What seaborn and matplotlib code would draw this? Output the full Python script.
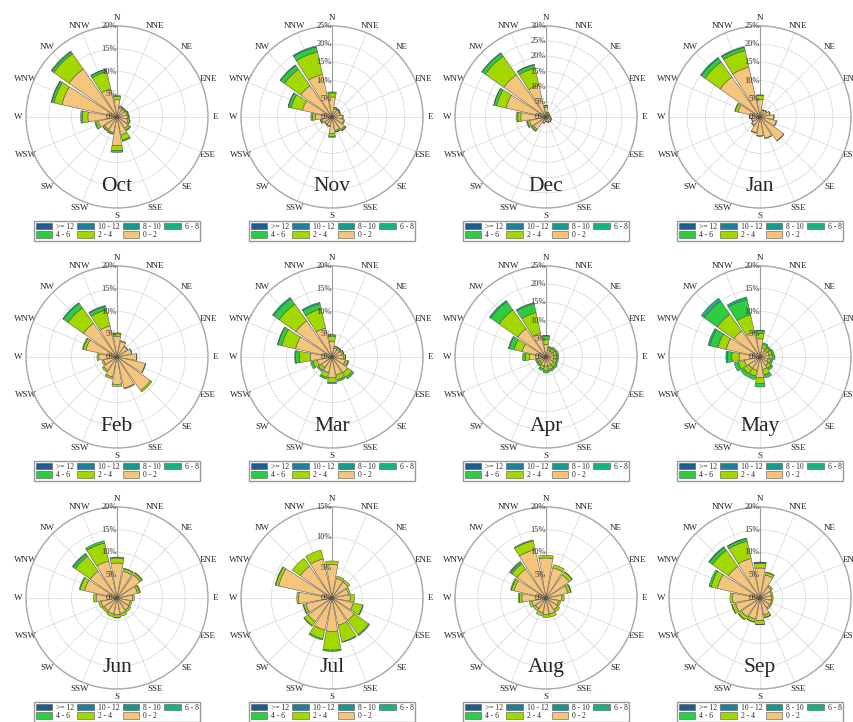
import numpy as np
import matplotlib
matplotlib.use("Agg")
import matplotlib.pyplot as plt
from matplotlib.patches import Patch
import seaborn as sns

# compass sectors, clockwise from north
directions = ["N", "NNE", "NE", "ENE", "E", "ESE", "SE", "SSE",
              "S", "SSW", "SW", "WSW", "W", "WNW", "NW", "NNW"]
speed_bins = ["0 - 2", "2 - 4", "4 - 6", "6 - 8", "8 - 10", "10 - 12", ">= 12"]
months = ["Oct", "Nov", "Dec", "Jan", "Feb", "Mar",
          "Apr", "May", "Jun", "Jul", "Aug", "Sep"]
r_max = [20, 25, 30, 25, 20, 20, 25, 20, 20, 15, 20, 20]

# frequency (%) per speed bin (rows: 0-2, 2-4, 4-6, 6-8), per direction
oct_pct = [[3.8, 2.0, 2.0, 2.2, 2.3, 2.5, 3.0, 4.0, 6.3, 3.5, 3.3, 4.2, 6.4, 12.4, 12.9, 6.3],
           [0.7, 0.4, 0.3, 0.3, 0.3, 0.4, 0.5, 1.2, 1.1, 0.3, 0.4, 0.6, 1.2, 1.8, 4.1, 3.9],
           [0.2, 0.1, 0.1, 0.1, 0.1, 0.1, 0.2, 0.3, 0.4, 0.1, 0.1, 0.2, 0.4, 0.5, 0.5, 0.5],
           [0, 0, 0, 0, 0, 0, 0, 0, 0, 0, 0, 0, 0, 0.1, 0.2, 0.1]]
nov_pct = [[5.5, 2.3, 2.3, 2.3, 2.8, 3.3, 4.2, 3.8, 4.6, 2.5, 2.3, 2.8, 4.6, 8.3, 10.5, 12.0],
           [1.1, 0.4, 0.3, 0.3, 0.3, 0.3, 0.4, 0.4, 0.7, 0.3, 0.3, 0.4, 0.8, 3.2, 5.5, 6.3],
           [0.3, 0.1, 0.1, 0, 0, 0, 0.1, 0.1, 0.3, 0, 0, 0.1, 0.4, 0.8, 1.3, 1.4],
           [0, 0, 0, 0, 0, 0, 0, 0, 0, 0, 0, 0, 0, 0.1, 0.2, 0.3]]
dec_pct = [[3.2, 1.5, 1.3, 1.3, 1.5, 1.8, 2.0, 1.8, 1.5, 2.0, 5.0, 5.6, 8.3, 13.5, 17.0, 10.7],
           [0.5, 0.2, 0.2, 0.1, 0.1, 0.1, 0.1, 0.1, 0.1, 0.2, 0.6, 0.7, 1.0, 3.2, 7.5, 5.8],
           [0.2, 0, 0, 0, 0, 0, 0, 0, 0, 0, 0.3, 0.3, 0.4, 0.9, 1.2, 1.1],
           [0, 0, 0, 0, 0, 0, 0, 0, 0, 0, 0, 0, 0, 0.1, 0.2, 0.2]]
jan_pct = [[4.9, 2.0, 2.2, 2.8, 3.8, 4.6, 8.0, 6.0, 5.2, 4.5, 2.8, 2.3, 2.8, 6.2, 13.4, 14.0],
           [1.0, 0.1, 0.1, 0.1, 0.1, 0.1, 0.1, 0.1, 0.1, 0.1, 0.1, 0.1, 0.1, 0.8, 5.1, 4.7],
           [0.2, 0, 0, 0, 0, 0, 0, 0, 0, 0, 0, 0, 0, 0.1, 1.2, 0.9],
           [0, 0, 0, 0, 0, 0, 0, 0, 0, 0, 0, 0, 0, 0, 0.3, 0.2]]
feb_pct = [[4.5, 3.5, 2.8, 3.3, 4.3, 6.4, 9.0, 7.0, 6.0, 4.5, 3.6, 3.0, 4.0, 7.0, 9.0, 7.0],
           [0.6, 0.2, 0.1, 0.1, 0.1, 0.1, 0.4, 0.2, 0.5, 0.4, 0.4, 0.4, 0.4, 0.6, 4.2, 3.6],
           [0.2, 0, 0, 0, 0, 0, 0, 0, 0, 0, 0, 0, 0, 0.2, 1.2, 0.8],
           [0, 0, 0, 0, 0, 0, 0, 0, 0, 0, 0, 0, 0, 0, 0.2, 0.2]]
mar_pct = [[3.5, 2.0, 2.0, 2.2, 2.5, 3.0, 4.2, 4.0, 4.5, 3.5, 2.8, 3.3, 4.8, 8.2, 9.7, 6.5],
           [1.1, 0.4, 0.4, 0.4, 0.4, 0.6, 1.2, 1.1, 1.1, 1.1, 0.8, 1.0, 2.4, 3.1, 4.5, 4.3],
           [0.3, 0.1, 0.1, 0.1, 0.1, 0.2, 0.5, 0.4, 0.3, 0.4, 0.3, 0.5, 0.8, 0.9, 1.5, 1.2],
           [0, 0, 0, 0, 0, 0, 0, 0, 0, 0, 0, 0, 0.2, 0.1, 0.3, 0.3]]
apr_pct = [[3.5, 2.0, 2.0, 2.2, 2.2, 2.2, 2.5, 2.5, 2.5, 2.5, 2.0, 2.0, 4.5, 6.7, 9.5, 6.7],
           [1.3, 0.6, 0.8, 0.8, 0.8, 0.8, 0.8, 1.0, 1.2, 0.8, 0.6, 0.6, 1.2, 2.3, 6.3, 5.8],
           [1.0, 0.4, 0.5, 0.5, 0.5, 0.5, 0.6, 0.6, 0.7, 0.5, 0.4, 0.4, 0.7, 1.4, 2.8, 2.5],
           [0.1, 0, 0, 0, 0, 0, 0, 0, 0, 0, 0, 0, 0, 0.2, 0.4, 0.3]]
may_pct = [[4.0, 2.0, 1.8, 2.0, 2.0, 1.8, 2.2, 2.8, 4.5, 3.0, 3.0, 3.5, 4.6, 7.6, 7.0, 5.6],
           [1.2, 0.8, 0.7, 0.7, 0.8, 0.7, 0.8, 1.2, 1.3, 1.3, 1.4, 1.4, 1.6, 1.9, 4.5, 3.9],
           [0.6, 0.4, 0.4, 0.4, 0.5, 0.4, 0.5, 0.7, 0.8, 0.8, 0.8, 0.9, 1.0, 1.8, 3.5, 3.5],
           [0.1, 0, 0, 0, 0, 0, 0, 0, 0, 0, 0, 0, 0.3, 0.4, 0.8, 0.5]]
jun_pct = [[7.7, 6.0, 6.2, 4.6, 3.4, 3.0, 3.2, 3.5, 3.7, 3.6, 3.4, 3.6, 4.6, 7.3, 7.2, 8.3],
           [1.1, 0.6, 0.5, 0.5, 0.4, 0.4, 0.5, 0.6, 0.6, 0.6, 0.5, 0.5, 0.6, 1.0, 4.0, 4.1],
           [0.2, 0.1, 0.2, 0.2, 0, 0, 0, 0, 0.1, 0, 0, 0, 0, 0.2, 0.6, 0.5],
           [0, 0, 0, 0, 0, 0, 0, 0, 0, 0, 0, 0, 0, 0, 0.2, 0]]
jul_pct = [[5.5, 3.3, 3.2, 2.8, 3.0, 3.6, 4.5, 4.6, 5.5, 5.4, 4.8, 4.4, 5.5, 9.0, 6.4, 6.6],
           [0.6, 0.4, 0.4, 0.3, 0.7, 1.6, 2.9, 2.8, 3.1, 1.5, 0.8, 0.4, 0.3, 0.5, 1.6, 1.5],
           [0, 0, 0, 0, 0, 0.1, 0.2, 0.1, 0.2, 0.2, 0.1, 0.1, 0, 0.1, 0, 0],
           [0, 0, 0, 0, 0, 0, 0, 0, 0, 0, 0, 0, 0, 0, 0, 0]]
aug_pct = [[8.8, 6.8, 6.2, 4.9, 3.5, 2.8, 3.1, 3.6, 3.6, 3.3, 2.8, 3.2, 5.3, 7.2, 7.8, 10.9],
           [0.6, 0.7, 0.8, 0.7, 0.5, 0.5, 0.6, 0.7, 0.7, 0.7, 0.6, 0.6, 0.6, 0.6, 1.4, 2.0],
           [0, 0, 0.1, 0.1, 0, 0, 0, 0, 0, 0, 0, 0, 0.2, 0.2, 0.4, 0.2],
           [0, 0, 0, 0, 0, 0, 0, 0, 0, 0, 0, 0, 0, 0, 0.2, 0]]
sep_pct = [[6.6, 5.2, 3.0, 2.6, 2.6, 2.6, 2.6, 3.8, 5.0, 4.7, 5.0, 5.5, 6.0, 9.6, 8.5, 8.9],
           [1.0, 0.6, 0.4, 0.3, 0.3, 0.3, 0.4, 0.6, 0.8, 0.7, 0.8, 0.8, 0.6, 1.4, 4.3, 3.9],
           [0.2, 0.1, 0, 0, 0, 0, 0, 0.1, 0.1, 0.1, 0.1, 0.1, 0, 0.5, 0.8, 0.6],
           [0.1, 0, 0, 0, 0, 0, 0, 0, 0, 0, 0, 0, 0, 0, 0.2, 0.1]]

month_data = [oct_pct, nov_pct, dec_pct, jan_pct, feb_pct, mar_pct,
              apr_pct, may_pct, jun_pct, jul_pct, aug_pct, sep_pct]

sns.set_style("white")
plt.rcParams["font.family"] = ["Liberation Serif", "DejaVu Serif"]

# 0-2 ... >=12
colors = ["#f6c57c", "#a2d800", "#2ecc40", "#17b27d", "#16988a", "#1f7f94", "#1f5c8c"]

W, H = 854, 722
fig = plt.figure(figsize=(W / 100, H / 100), dpi=100)

col_x = [117, 332, 546, 760]
row_y = [117, 357, 598]
R = 91
theta = np.deg2rad(np.arange(len(directions)) * 22.5)
width = np.deg2rad(22.5) * 0.88

# legend: row-major order for 4 columns
leg_order = [6, 2, 5, 1, 4, 0, 3]
handles = [Patch(facecolor=colors[k], edgecolor="#555555", linewidth=0.4) for k in leg_order]
labels = [speed_bins[k] for k in leg_order]

for i, (name, data, rmax) in enumerate(zip(months, month_data, r_max)):
    cx = col_x[i % 4]
    cy = row_y[i // 4]
    ax = fig.add_axes([(cx - R) / W, (H - cy - R) / H, 2 * R / W, 2 * R / H],
                      projection="polar")
    ax.set_theta_zero_location("N")
    ax.set_theta_direction(-1)

    bottom = np.zeros(len(directions))
    for k, seg in enumerate(data):
        seg = np.array(seg, dtype=float)
        m = seg > 0
        ax.bar(theta[m], seg[m], width=width, bottom=bottom[m], color=colors[k],
               edgecolor="#4a4a4a", linewidth=0.35, zorder=3)
        bottom += seg

    ax.set_ylim(0, rmax)
    ticks = np.arange(5, rmax + 1, 5)
    ax.set_yticks(ticks)
    ax.set_yticklabels([])
    for t in [0] + list(ticks):
        ax.text(0, t, f"{t}%", ha="right", va="center", fontsize=6, color="#333333", zorder=4)

    ax.set_xticks(theta)
    ax.set_xticklabels(directions, fontsize=6.5)
    ax.tick_params(axis="x", pad=-1.5, length=0)
    ax.grid(True, color="#dcdcdc", linewidth=0.6)
    ax.spines["polar"].set_color("#a8a8a8")
    ax.spines["polar"].set_linewidth(1.0)
    ax.plot([0, 0], [0, rmax], color="#9a9a9a", linewidth=0.8, zorder=2)

    ax.text(0.5, 0.12, name, transform=ax.transAxes, ha="center", va="center",
            fontsize=15.5, zorder=5)

    fig.legend(handles, labels, ncol=4, loc="center",
               bbox_to_anchor=(cx / W, 1 - (cy + 114) / H),
               fontsize=5.5, frameon=True, fancybox=False, edgecolor="#999999",
               framealpha=1, handlelength=2.2, handleheight=1.0, handletextpad=0.5,
               columnspacing=0.4, labelspacing=0.1, borderpad=0.2, borderaxespad=0)

fig.savefig("out.png", dpi=100)
